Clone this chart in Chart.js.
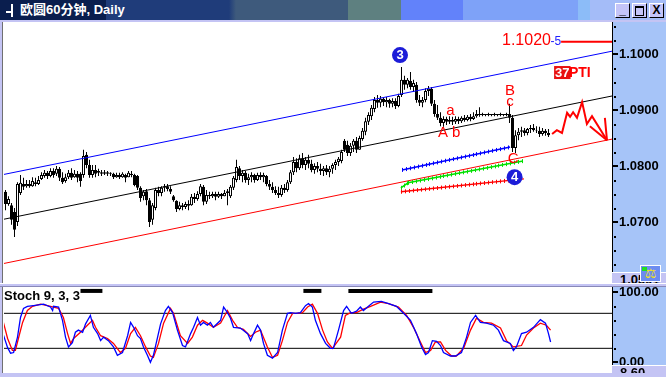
<!DOCTYPE html>
<html>
<head>
<meta charset="utf-8">
<script src="https://cdn.jsdelivr.net/npm/chart.js@4.4.0/dist/chart.umd.min.js"></script>
<style>
  html, body { margin: 0; padding: 0; }
  body { width: 666px; height: 377px; position: relative; overflow: hidden; background: #c4c4f4; font-family: "Liberation Sans", Arial, "Noto Sans CJK SC", sans-serif; }
  #title { position: absolute; left: 0; top: 0; width: 666px; height: 20px;
    background: linear-gradient(to right, #0a1e4e 0, #0a1e4e 106px, #1f3c7a 106px, #1f3c7a 229px, #3e5a7c 236px, #3e5a7c 348px, #5e8080 348px, #5e8080 401px, #6282fa 401px, #6282fa 463px, #7ea2f8 463px, #7ea2f8 578px, #8cbcf8 578px, #8cbcf8 590px, #a4bcf8 590px); }
  #title .txt { position: absolute; left: 20px; top: 2px; color: #fff; font: bold 13px/16px "Liberation Sans", Arial, "Noto Sans CJK SC", sans-serif; }
  #title .ic1 { position: absolute; left: 11px; top: 4px; width: 2px; height: 13px; background: #fff; }
  #title .ic2 { position: absolute; left: 6px; top: 11px; width: 6px; height: 2px; background: #fff; }
  .btn { position: absolute; top: 3px; width: 13px; height: 13px; background: #c4c4f8; border: 1px solid; border-color: #fff #000 #000 #fff; color: #000; font: bold 12px/13px "Liberation Sans", Arial, sans-serif; text-align: center; }
  canvas { position: absolute; left: 0; }
  #main { top: 22px; }
  #stoch { top: 287px; }
  #sep { position: absolute; left: 0; top: 283px; width: 666px; height: 4px; background: #c4c4f4; border-top: 1px solid #fff; box-sizing: border-box; border-bottom: 1px solid #8888b8; }
  .box { position: absolute; left: 612px; width: 54px; background: #c4c4f4; border-top: 1px solid #fff; overflow: hidden; box-sizing: border-box; font: bold 13px/13px "Liberation Sans", Arial, sans-serif; color: #000; padding-left: 8px; }
  #scaleIcon { position: absolute; left: 640px; top: 265px; width: 21px; height: 17px; background: #6c8cf0; border: 1px solid #fff; box-sizing: border-box; color: #f0e020; font: bold 13px/15px "DejaVu Sans", sans-serif; text-align: center; }
  #scaleIcon i { position: absolute; left: 1px; top: 1px; width: 5px; height: 4px; background: #20e020; }
  #stochLabel { position: absolute; left: 4px; top: 289px; font: bold 13px/14px "Liberation Sans", Arial, sans-serif; color: #000; }
</style>
</head>
<body>
<div id="title">
  <div class="ic1"></div><div class="ic2"></div>
  <div class="txt">欧圆60分钟, Daily</div>
  <div class="btn" style="left:615px;">_</div>
  <div class="btn" style="left:632px;"><div style="position:absolute;left:2px;top:2px;width:7px;height:7px;border:1px solid #000;border-top-width:2px;"></div></div>
  <div class="btn" style="left:649px;">X</div>
</div>
<canvas id="main" width="666" height="261"></canvas>
<div id="sep"></div>
<canvas id="stoch" width="666" height="86"></canvas>
<div class="box" style="top:272px;height:11px;">1.0591</div>
<div id="scaleIcon"><i></i>⚖</div>
<div class="box" style="top:365px;height:8px;">8.60</div>
<div id="stochLabel">Stoch 9, 3, 3</div>

<script>
// ---- price bars (60 min), one per bar index ----
const opens = [
  1.0754,1.0732,1.0730,1.0718,1.0700,1.0752,1.0768,1.0764,1.0768,1.0764,
  1.0771,1.0768,1.0777,1.0782,1.0788,1.0782,1.0791,1.0786,1.0795,1.0779,
  1.0773,1.0780,1.0788,1.0780,1.0786,1.0786,1.0784,1.0820,1.0802,1.0784,
  1.0793,1.0788,1.0789,1.0786,1.0789,1.0786,1.0786,1.0780,1.0784,1.0780,
  1.0784,1.0780,1.0786,1.0784,1.0782,1.0761,1.0746,1.0755,1.0739,1.0704,
  1.0725,1.0757,1.0752,1.0761,1.0764,1.0759,1.0746,1.0738,1.0723,1.0730,
  1.0727,1.0732,1.0730,1.0745,1.0741,1.0750,1.0763,1.0736,1.0748,1.0746,
  1.0750,1.0745,1.0750,1.0746,1.0752,1.0746,1.0761,1.0775,1.0796,1.0782,
  1.0788,1.0775,1.0780,1.0784,1.0775,1.0784,1.0780,1.0782,1.0768,1.0763,
  1.0757,1.0752,1.0748,1.0761,1.0757,1.0771,1.0789,1.0807,1.0796,1.0814,
  1.0802,1.0811,1.0804,1.0793,1.0800,1.0795,1.0791,1.0796,1.0789,1.0795,
  1.0802,1.0807,1.0809,1.0845,1.0838,1.0823,1.0836,1.0845,1.0829,1.0848,
  1.0861,1.0879,1.0889,1.0902,1.0918,1.0913,1.0920,1.0914,1.0918,1.0911,
  1.0916,1.0907,1.0927,1.0954,1.0945,1.0952,1.0941,1.0945,1.0918,1.0913,
  1.0918,1.0934,1.0938,1.0911,1.0893,1.0886,1.0877,1.0884,1.0879,1.0882,
  1.0879,1.0884,1.0880,1.0886,1.0882,1.0888,1.0884,1.0889,1.0893,1.0891,
  1.0893,1.0891,1.0893,1.0891,1.0893,1.0891,1.0893,1.0891,1.0893,1.0886,
  1.0832,1.0855,1.0861,1.0864,1.0859,1.0866,1.0868,1.0864,1.0863,1.0857,1.0863,1.0859
];
const highs = [
  1.0757,1.0746,1.0734,1.0725,1.0771,1.0784,1.0779,1.0775,1.0775,1.0780,
  1.0779,1.0782,1.0789,1.0793,1.0791,1.0796,1.0796,1.0800,1.0798,1.0789,
  1.0786,1.0793,1.0796,1.0793,1.0791,1.0789,1.0829,1.0825,1.0811,1.0802,
  1.0802,1.0795,1.0793,1.0793,1.0791,1.0789,1.0788,1.0788,1.0788,1.0789,
  1.0786,1.0791,1.0791,1.0786,1.0784,1.0764,1.0757,1.0759,1.0743,1.0734,
  1.0761,1.0763,1.0764,1.0768,1.0768,1.0764,1.0748,1.0739,1.0736,1.0734,
  1.0736,1.0739,1.0750,1.0752,1.0755,1.0768,1.0766,1.0757,1.0754,1.0754,
  1.0754,1.0754,1.0752,1.0757,1.0759,1.0766,1.0782,1.0811,1.0800,1.0793,
  1.0791,1.0786,1.0789,1.0786,1.0788,1.0789,1.0788,1.0784,1.0775,1.0771,
  1.0764,1.0763,1.0766,1.0768,1.0775,1.0793,1.0816,1.0814,1.0820,1.0823,
  1.0816,1.0820,1.0811,1.0805,1.0807,1.0804,1.0800,1.0802,1.0800,1.0805,
  1.0811,1.0816,1.0829,1.0848,1.0845,1.0841,1.0848,1.0852,1.0854,1.0868,
  1.0886,1.0896,1.0909,1.0923,1.0927,1.0925,1.0923,1.0923,1.0920,1.0921,
  1.0921,1.0929,1.0977,1.0961,1.0957,1.0968,1.0954,1.0950,1.0927,1.0923,
  1.0939,1.0943,1.0941,1.0918,1.0909,1.0896,1.0889,1.0888,1.0889,1.0888,
  1.0889,1.0888,1.0889,1.0891,1.0891,1.0893,1.0896,1.0900,1.0905,1.0895,
  1.0893,1.0895,1.0893,1.0895,1.0893,1.0895,1.0893,1.0895,1.0911,1.0891,
  1.0864,1.0868,1.0870,1.0868,1.0868,1.0873,1.0875,1.0871,1.0870,1.0868,1.0866,1.0866
];
const lows = [
  1.0721,1.0729,1.0695,1.0673,1.0693,1.0748,1.0757,1.0761,1.0761,1.0763,
  1.0764,1.0766,1.0775,1.0779,1.0777,1.0780,1.0779,1.0782,1.0773,1.0768,
  1.0770,1.0777,1.0775,1.0779,1.0771,1.0763,1.0779,1.0796,1.0779,1.0779,
  1.0780,1.0782,1.0782,1.0784,1.0782,1.0782,1.0777,1.0779,1.0777,1.0779,
  1.0771,1.0780,1.0780,1.0764,1.0757,1.0736,1.0739,1.0730,1.0691,1.0695,
  1.0721,1.0746,1.0746,1.0754,1.0755,1.0750,1.0736,1.0718,1.0721,1.0721,
  1.0723,1.0721,1.0729,1.0734,1.0738,1.0746,1.0730,1.0732,1.0741,1.0743,
  1.0739,1.0743,1.0741,1.0746,1.0730,1.0743,1.0757,1.0771,1.0775,1.0771,
  1.0770,1.0766,1.0771,1.0770,1.0773,1.0775,1.0771,1.0764,1.0757,1.0752,
  1.0748,1.0743,1.0745,1.0752,1.0754,1.0768,1.0784,1.0789,1.0793,1.0796,
  1.0793,1.0796,1.0789,1.0786,1.0789,1.0784,1.0782,1.0784,1.0780,1.0786,
  1.0793,1.0800,1.0805,1.0825,1.0818,1.0818,1.0825,1.0823,1.0829,1.0845,
  1.0855,1.0873,1.0882,1.0896,1.0904,1.0905,1.0907,1.0905,1.0904,1.0905,
  1.0902,1.0905,1.0923,1.0936,1.0939,1.0936,1.0932,1.0913,1.0907,1.0905,
  1.0914,1.0925,1.0907,1.0888,1.0882,1.0871,1.0870,1.0873,1.0875,1.0873,
  1.0875,1.0875,1.0877,1.0879,1.0880,1.0880,1.0882,1.0886,1.0888,1.0889,
  1.0889,1.0889,1.0889,1.0889,1.0889,1.0889,1.0889,1.0889,1.0877,1.0825,
  1.0823,1.0846,1.0852,1.0854,1.0855,1.0859,1.0861,1.0859,1.0852,1.0854,1.0854,1.0852
];
const closes = [
  1.0732,1.0741,1.0704,1.0686,1.0768,1.0770,1.0763,1.0768,1.0764,1.0773,
  1.0768,1.0775,1.0784,1.0788,1.0782,1.0791,1.0784,1.0795,1.0779,1.0771,
  1.0780,1.0788,1.0779,1.0786,1.0779,1.0773,1.0818,1.0802,1.0784,1.0793,
  1.0786,1.0791,1.0786,1.0789,1.0786,1.0788,1.0780,1.0784,1.0780,1.0786,
  1.0779,1.0788,1.0784,1.0766,1.0761,1.0743,1.0754,1.0739,1.0700,1.0730,
  1.0757,1.0752,1.0761,1.0764,1.0759,1.0754,1.0739,1.0723,1.0730,1.0727,
  1.0732,1.0729,1.0745,1.0741,1.0750,1.0764,1.0736,1.0748,1.0746,1.0750,
  1.0745,1.0750,1.0746,1.0752,1.0755,1.0763,1.0779,1.0798,1.0782,1.0788,
  1.0775,1.0780,1.0784,1.0775,1.0784,1.0780,1.0784,1.0768,1.0763,1.0757,
  1.0752,1.0748,1.0761,1.0757,1.0771,1.0789,1.0807,1.0796,1.0814,1.0802,
  1.0811,1.0804,1.0793,1.0800,1.0795,1.0791,1.0796,1.0789,1.0795,1.0802,
  1.0807,1.0813,1.0825,1.0829,1.0823,1.0836,1.0845,1.0829,1.0850,1.0863,
  1.0880,1.0891,1.0904,1.0918,1.0913,1.0920,1.0914,1.0918,1.0911,1.0916,
  1.0907,1.0925,1.0954,1.0945,1.0954,1.0941,1.0948,1.0918,1.0913,1.0918,
  1.0934,1.0938,1.0911,1.0893,1.0886,1.0877,1.0884,1.0879,1.0882,1.0879,
  1.0884,1.0880,1.0886,1.0882,1.0888,1.0884,1.0889,1.0893,1.0891,1.0893,
  1.0891,1.0893,1.0891,1.0893,1.0891,1.0893,1.0891,1.0893,1.0886,1.0832,
  1.0855,1.0861,1.0864,1.0859,1.0866,1.0868,1.0864,1.0863,1.0857,1.0863,1.0859,1.0855
];

// ---- trend channel and drawn lines (bar index, price) ----
const channelX = [-0.5, 202.17];
const channelUpper = [1.0785, 1.1005];
const channelMid = [1.0705, 1.0925];
const channelLower = [1.0626, 1.0848];

const blueTrendX = [132.2, 168.2];
const blueTrendY = [1.0793, 1.0834];
const greenTrendX = [131.8, 134.2, 172.5];
const greenTrendY = [1.0761, 1.0770, 1.0809];
const redTrendX = [131.8, 172.8];
const redTrendY = [1.0754, 1.0777];

const forecastX = [182.2, 183.8, 185.5, 187.2, 188.2, 189.2, 190.5, 192.2, 193.8, 195.5, 200.5];
const forecastY = [1.0857, 1.0864, 1.0859, 1.0895, 1.0888, 1.0896, 1.0886, 1.0914, 1.0875, 1.0889, 1.0846];
const arrowAX = [194.8, 200.5];
const arrowAY = [1.0871, 1.0846];
const arrowBX = [199.8, 200.5];
const arrowBY = [1.0886, 1.0846];

const targetX = [185.2, 202.17];
const targetY = [1.1022, 1.1022];

const priceLabels = [1.0700, 1.0800, 1.0900, 1.1000];
const priceMinor = [1.0625, 1.0650, 1.0675, 1.0725, 1.0750, 1.0775, 1.0825, 1.0850, 1.0875, 1.0925, 1.0950, 1.0975, 1.1025, 1.1050];

// ---- Stoch 9,3,3 ----
const kIdx = [-0.7,0.7,1.7,2.7,4,5,6,7.3,9.3,12.7,15,15.7,16,17.7,19,20,21,22.3,23.3,24.3,25.7,26.7,28.3,29.3,30.7,31.7,32.7,34.3,36,37.3,39,40.7,41.7,42.7,44,45,46,47.3,48.3,49.3,50.7,51.7,53.3,54.3,55.7,57.3,59,60,61.7,62.7,64,65,66,67.3,68.3,69.3,71.7,72.7,74,75,76,78.3,80.7,81.7,82.7,84,85,86,87.3,89,90.7,92.3,94,95,96.7,98.3,100,101,102.3,103.3,105,106.7,108.3,109.3,111,112.7,113.7,115.3,117,118.3,119.3,121,122.7,125.3,127.7,130.3,132.7,135,137,138.7,140,141,142.3,143.7,145,146,148.3,150,152,153.7,155,156.7,158.3,160.3,162.7,164.3,166,168.3,169.3,170.3,172,173.7,176,178.3,180,181,181.7];
const kVal = [39,21,13,14,36,64,77,80,81,83,79,74,80,79,60,36,22,28,43,46,43,55,67,50,41,31,36,31,22,10,14,38,57,50,38,34,22,10,0,10,36,55,74,80,71,46,24,22,41,50,64,53,57,53,57,50,60,79,71,63,50,49,41,31,41,53,46,27,10,6,14,46,70,71,70,71,81,84,79,60,41,27,20,20,46,74,80,70,73,79,74,80,86,87,84,80,70,60,41,22,11,14,31,30,24,14,9,9,14,36,57,67,57,56,53,46,31,27,17,22,41,43,50,61,56,41,29];
const dIdx = [-0.7,0.7,2.3,3.3,4.3,5.7,7.3,9,11.7,14,16,17.7,19.3,20.7,21.7,22.7,25,27.3,29,30,31.7,34,36,38.3,40,41.7,43.3,45,46.7,48.3,49.3,51,52.7,55,56,58.3,60.7,62.3,64,65.7,67.3,69.3,71.7,74,75.7,77.3,79.3,81.7,83.3,85,87.3,89,90.7,92.3,94,95.7,97.3,99,100.7,102.3,104,105.7,107.3,109,111.7,113.3,115,117,119.3,121.7,125,127.7,131,133.7,136,138.3,140,141.7,143.3,145,146.7,148.7,150.3,152.7,155,157,159.3,162,165,167,169.3,172,173.7,176,178.3,180.3,181.7];
const dVal = [57,34,17,17,34,57,74,80,83,81,79,77,64,41,27,34,43,53,60,50,38,34,27,14,20,41,50,38,22,9,7,27,56,77,70,38,27,36,53,60,56,50,56,74,60,50,47,37,43,46,22,7,10,31,57,70,70,71,79,83,70,46,29,20,36,67,71,71,76,80,86,84,79,67,50,29,14,17,29,29,17,9,9,20,46,63,57,56,49,31,22,24,39,49,56,53,46];
const stochLevels = [70, 20];
const stochMarks = [[25, 32.3], [99.3, 105.3], [114.3, 142.3]];
const stochLabels = [0, 100];
const stochMinor = [20, 40, 60, 80];

const xMin = -0.5, xMax = 202.17;
const FONT = 'Liberation Sans';

const pts = (xs, ys) => xs.map((x, i) => ({ x: x, y: ys[i] }));
const near = (list, v) => list.some((l) => Math.abs(l - v) < 1e-7);

// keep the right axis 54px wide and stop it from padding the plot vertically
const fixAxis = (s) => {
  s.width = 54;
  s.paddingTop = 0;
  s.paddingBottom = 0;
};

// white plot, blue axis panel, left frame line, tick dashes and dots
const axisDeco = {
  id: 'axisDeco',
  beforeDraw(chart) {
    const { ctx, chartArea: a, width, height } = chart;
    ctx.save();
    ctx.fillStyle = '#ffffff';
    ctx.fillRect(0, 0, a.right, height);
    ctx.fillStyle = '#c4c4f4';
    ctx.fillRect(0, 0, 2, height);
    ctx.fillStyle = '#707070';
    ctx.fillRect(2, 0, 1, height);
    ctx.fillStyle = '#a6c4f8';
    ctx.fillRect(a.right, 0, width - a.right, height);
    ctx.restore();
  },
  afterDraw(chart, args, opts) {
    const { ctx, chartArea: a } = chart;
    const y = chart.scales.y;
    ctx.save();
    ctx.fillStyle = '#000';
    (opts.major || []).forEach((v) => {
      const py = Math.round(y.getPixelForValue(v));
      ctx.fillRect(a.right + 1, py - 1, 5, 2);
    });
    (opts.minor || []).forEach((v) => {
      const py = Math.round(y.getPixelForValue(v));
      ctx.fillRect(a.right + 2, py, 2, 2);
    });
    ctx.restore();
  }
};

// small cross ticks along the hand-drawn lines
const tickMarks = {
  id: 'tickMarks',
  afterDatasetsDraw(chart) {
    const ctx = chart.ctx;
    chart.data.datasets.forEach((ds, di) => {
      if (!ds.tickMarks) return;
      const p = chart.getDatasetMeta(di).data;
      ctx.save();
      ctx.strokeStyle = ds.borderColor;
      ctx.lineWidth = 1;
      for (let k = 1; k < p.length; k++) {
        const a = p[k - 1], b = p[k];
        const len = Math.hypot(b.x - a.x, b.y - a.y);
        for (let s = 0; s <= len; s += 4) {
          const px = Math.round(a.x + (b.x - a.x) * s / len) + 0.5;
          const py = a.y + (b.y - a.y) * s / len;
          ctx.beginPath();
          ctx.moveTo(px, py - 2);
          ctx.lineTo(px, py + 2);
          ctx.stroke();
        }
      }
      ctx.restore();
    });
  }
};

// wave labels and price notes
const notes = {
  id: 'notes',
  afterDatasetsDraw(chart, args, opts) {
    const { ctx, scales: { x, y } } = chart;
    (opts.items || []).forEach((n) => {
      const px = x.getPixelForValue(n.x), py = y.getPixelForValue(n.y);
      ctx.save();
      ctx.font = n.font;
      ctx.textAlign = n.align || 'center';
      ctx.textBaseline = n.baseline || 'alphabetic';
      if (n.circle) {
        ctx.fillStyle = n.circle;
        ctx.beginPath();
        ctx.arc(px, py, n.r, 0, Math.PI * 2);
        ctx.fill();
      }
      if (n.box) {
        const w = ctx.measureText(n.text).width;
        ctx.fillStyle = n.box;
        ctx.fillRect(px - 1, py - 7, w + 2, 13);
      }
      ctx.fillStyle = n.color;
      ctx.fillText(n.text, px, py);
      ctx.restore();
    });
  }
};

const lineDs = (data, color, width, order, extra) => Object.assign({
  type: 'line', data: data, borderColor: color, borderWidth: width,
  pointRadius: 0, tension: 0, fill: false, order: order
}, extra || {});

new Chart(document.getElementById('main'), {
  type: 'bar',
  data: {
    datasets: [
      {
        label: 'range',
        data: highs.map((h, i) => ({ x: i, y: [lows[i], h] })),
        backgroundColor: '#000', borderWidth: 0, barThickness: 1,
        grouped: false, inflateAmount: 0, order: 4
      },
      {
        label: 'body',
        data: opens.map((o, i) => ({ x: i, y: [o, closes[i]] })),
        backgroundColor: (c) => (closes[c.dataIndex] >= opens[c.dataIndex] ? '#ffffff' : '#000000'),
        borderColor: '#000', borderWidth: 1, borderSkipped: false, barThickness: 3,
        grouped: false, inflateAmount: 0, order: 3
      },
      lineDs(pts(channelX, channelUpper), '#0000ff', 1, 2),
      lineDs(pts(channelX, channelMid), '#000000', 1, 2),
      lineDs(pts(channelX, channelLower), '#ff0000', 1, 2),
      lineDs(pts(blueTrendX, blueTrendY), '#0000ff', 1.5, 1, { tickMarks: true }),
      lineDs(pts(greenTrendX, greenTrendY), '#00e000', 1.5, 1, { tickMarks: true }),
      lineDs(pts(redTrendX, redTrendY), '#ff0000', 1.5, 1, { tickMarks: true }),
      lineDs(pts(forecastX, forecastY), '#ff0000', 2, 0),
      lineDs(pts(arrowAX, arrowAY), '#ff0000', 2, 0),
      lineDs(pts(arrowBX, arrowBY), '#ff0000', 2, 0),
      lineDs(pts(targetX, targetY), '#ff0000', 2, 0)
    ]
  },
  options: {
    responsive: false,
    animation: false,
    devicePixelRatio: 1,
    events: [],
    layout: { padding: { left: 4, right: 0, top: 0, bottom: 0 } },
    scales: {
      x: { type: 'linear', min: xMin, max: xMax, offset: false, display: false },
      y: {
        position: 'right',
        min: 1.059107, max: 1.105714,
        afterBuildTicks: (s) => { s.ticks = priceLabels.map((v) => ({ value: v })); },
        afterFit: fixAxis,
        grid: { display: false, drawTicks: false },
        border: { display: true, color: '#000', width: 1 },
        ticks: {
          autoSkip: false, padding: 7, color: '#000',
          font: { family: FONT, size: 13, weight: 'bold' },
          callback: (v) => (near(priceLabels, v) ? Number(v).toFixed(4) : '')
        }
      }
    },
    plugins: {
      legend: { display: false },
      tooltip: { enabled: false },
      axisDeco: { major: priceLabels, minor: priceMinor },
      notes: {
        items: [
          { x: 131.5, y: 1.0998, text: '3', circle: '#1c1cd8', r: 8, font: 'bold 13px ' + FONT, color: '#fff', baseline: 'middle' },
          { x: 169.7, y: 1.0780, text: '4', circle: '#1c1cd8', r: 8, font: 'bold 13px ' + FONT, color: '#fff', baseline: 'middle' },
          { x: 145.8, y: 1.0852, text: 'A', font: '15px ' + FONT, color: '#ff0000' },
          { x: 148.3, y: 1.0891, text: 'a', font: '15px ' + FONT, color: '#ff0000' },
          { x: 150.2, y: 1.0852, text: 'b', font: '15px ' + FONT, color: '#ff0000' },
          { x: 168.2, y: 1.0927, text: 'B', font: '15px ' + FONT, color: '#ff0000' },
          { x: 168.2, y: 1.0907, text: 'c', font: '15px ' + FONT, color: '#ff0000' },
          { x: 169.2, y: 1.0805, text: 'C', font: '15px ' + FONT, color: '#ff0000' },
          { x: 183.2, y: 1.0966, text: '37', box: '#e81010', font: 'bold 13px ' + FONT, color: '#fff', align: 'left', baseline: 'middle' },
          { x: 187.8, y: 1.0966, text: 'PTI', font: 'bold 14px ' + FONT, color: '#ff0000', align: 'left', baseline: 'middle' },
          { x: 165.5, y: 1.1016, text: '1.1020', font: '16px ' + FONT, color: '#ff0000', align: 'left' },
          { x: 181.7, y: 1.1016, text: '-5', font: '12px ' + FONT, color: '#2020ff', align: 'left' }
        ]
      }
    }
  },
  plugins: [axisDeco, tickMarks, notes]
});

new Chart(document.getElementById('stoch'), {
  type: 'line',
  data: {
    datasets: [
      ...stochLevels.map((v) => lineDs(pts([xMin, xMax], [v, v]), '#000000', 1, 3)),
      ...stochMarks.map((m) => lineDs(pts(m, [102, 102]), '#000000', 4, 3)),
      lineDs(pts(dIdx, dVal), '#ff0000', 1.3, 2),
      lineDs(pts(kIdx, kVal), '#0000ff', 1.3, 1)
    ]
  },
  options: {
    responsive: false,
    animation: false,
    devicePixelRatio: 1,
    events: [],
    layout: { padding: { left: 4, right: 0, top: 0, bottom: 0 } },
    scales: {
      x: { type: 'linear', min: xMin, max: xMax, offset: false, display: false },
      y: {
        position: 'right',
        min: -15.26, max: 107.6,
        afterBuildTicks: (s) => { s.ticks = stochLabels.map((v) => ({ value: v })); },
        afterFit: fixAxis,
        grid: { display: false, drawTicks: false },
        border: { display: true, color: '#000', width: 1 },
        ticks: {
          autoSkip: false, padding: 7, color: '#000',
          font: { family: FONT, size: 13, weight: 'bold' },
          callback: (v) => Number(v).toFixed(2)
        }
      }
    },
    plugins: {
      legend: { display: false },
      tooltip: { enabled: false },
      axisDeco: { major: stochLabels, minor: stochMinor }
    }
  },
  plugins: [axisDeco]
});
</script>
</body>
</html>
